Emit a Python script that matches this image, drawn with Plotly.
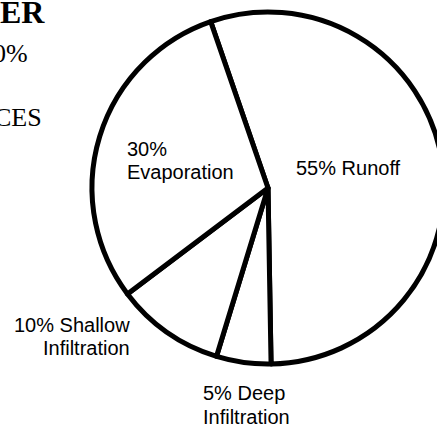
import plotly.graph_objects as go

# ---- data ----
categories = ["Runoff", "Deep Infiltration", "Shallow Infiltration", "Evaporation"]
values = [55, 5, 10, 30]
# how each slice label is broken into lines (first line begins with the percentage)
label_lines = {
    "Runoff": ["Runoff"],
    "Evaporation": ["", "Evaporation"],
    "Shallow Infiltration": ["Shallow", "Infiltration"],
    "Deep Infiltration": ["Deep", "Infiltration"],
}
# fragments of a slide heading that are cut off at the left edge
heading_fragments = ["ER", "0%", "CES"]

# ---- layout helpers (pixels) ----
W, H = 460, 426
def px(x):
    return x / W
def py(y):
    return 1 - y / H

cx, cy, r = 268, 188, 176

fig = go.Figure()
fig.add_trace(go.Pie(
    labels=categories,
    values=values,
    sort=False,
    direction="clockwise",
    rotation=-19,
    textinfo="none",
    textposition="none",
    hoverinfo="label+percent",
    marker=dict(colors=["white"] * len(values), line=dict(color="black", width=5)),
    domain=dict(x=[px(cx - r), px(cx + r)], y=[py(cy + r), py(cy - r)]),
    showlegend=False,
))

val = dict(zip(categories, values))

def lines_for(cat):
    parts = label_lines[cat]
    first = f"{val[cat]}%" + ((" " + parts[0]) if parts[0] else "")
    return [first] + parts[1:]

# placement of each slice label: (anchor x, xanchor, first baseline)
label_pos = {
    "Runoff": (348, "center", 175),
    "Evaporation": (125, "left", 155.5),
    "Shallow Infiltration": (132, "right", 331.7),
    "Deep Infiltration": (201, "left", 400),
}
line_gap = 23.5
sans = "Liberation Sans, Arial, sans-serif"
ann = []
for cat in categories:
    x, xa, base = label_pos[cat]
    for i, t in enumerate(lines_for(cat)):
        b = base + i * line_gap
        ann.append(dict(
            text=t, x=px(x), y=py(b - 7), xref="paper", yref="paper",
            xanchor=xa, yanchor="middle", showarrow=False,
            align=xa if xa != "center" else "center",
            font=dict(family=sans, size=20, color="black"),
        ))

serif = "Liberation Serif, Times New Roman, serif"
head_specs = [
    (heading_fragments[0], 47, 23, 32, True),
    (heading_fragments[1], 30, 62, 26, False),
    (heading_fragments[2], 44, 126.7, 26, False),
]
for t, right, base, size, bold in head_specs:
    ann.append(dict(
        text=f"<b>{t}</b>" if bold else t,
        x=px(right), y=py(base - 0.3375 * size), xref="paper", yref="paper",
        xanchor="right", yanchor="middle", showarrow=False,
        font=dict(family=serif, size=size, color="black"),
    ))

fig.update_layout(
    width=W, height=H,
    margin=dict(l=0, r=0, t=0, b=0),
    paper_bgcolor="white", plot_bgcolor="white",
    annotations=ann,
)

fig.write_html(
    "out.html",
    config={"displayModeBar": False},
    post_script="document.body.style.margin='0';document.body.style.overflow='hidden';",
)
